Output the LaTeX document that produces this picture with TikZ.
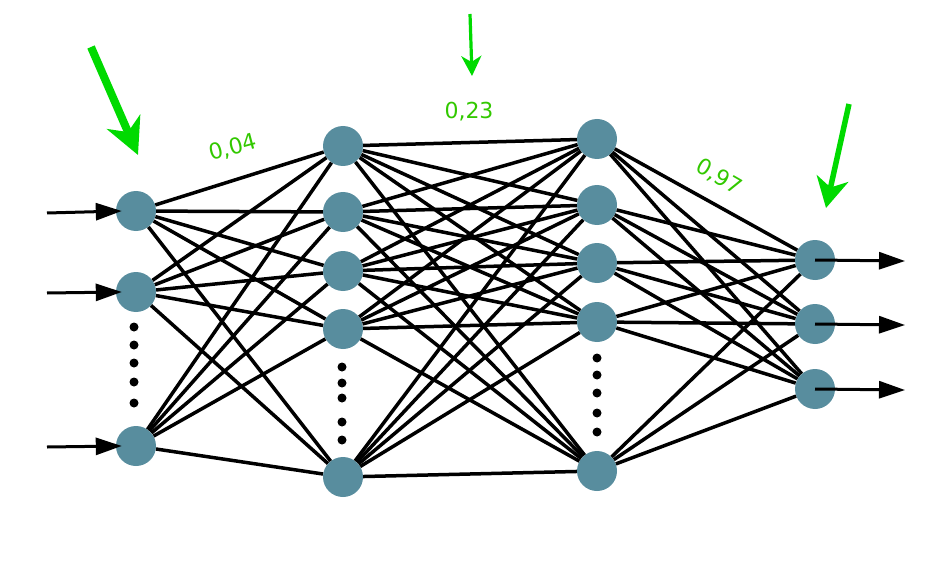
\documentclass[tikz,border=0pt]{standalone}
\usepackage{fontspec}
\setmainfont{DejaVu Sans}
\usetikzlibrary{arrows.meta}
\definecolor{nodeblue}{RGB}{88,141,158}
\definecolor{arrgreen}{RGB}{0,218,0}
\definecolor{labgreen}{RGB}{50,200,0}
\begin{document}
\begin{tikzpicture}[x=1pt,y=-1pt,
  neuron/.style={circle,fill=nodeblue,minimum size=40pt,inner sep=0pt},
  edge/.style={line width=3.5pt,black},
  io/.style={line width=3pt,black,-{Triangle[length=26pt,width=17pt]}},
  dot/.style={circle,fill=black,minimum size=9pt,inner sep=0pt},
  lab/.style={text=labgreen,font=\fontsize{22}{22}\selectfont,inner sep=0pt}
]
\useasboundingbox (0,0) rectangle (931,580);
\node[neuron] (a1) at (136,211) {};
\node[neuron] (a2) at (136,292) {};
\node[neuron] (a3) at (136,446) {};
\node[neuron] (b1) at (343,146) {};
\node[neuron] (b2) at (343,212) {};
\node[neuron] (b3) at (343,271) {};
\node[neuron] (b4) at (343,329) {};
\node[neuron] (b5) at (343,477) {};
\node[neuron] (c1) at (597,139) {};
\node[neuron] (c2) at (597,205) {};
\node[neuron] (c3) at (597,263) {};
\node[neuron] (c4) at (597,322) {};
\node[neuron] (c5) at (597,471) {};
\node[neuron] (d1) at (815,260) {};
\node[neuron] (d2) at (815,324) {};
\node[neuron] (d3) at (815,389) {};
\foreach \i in {a1,a2,a3}{\foreach \j in {b1,b2,b3,b4,b5}{\draw[edge] (\i) -- (\j);}}
\foreach \i in {b1,b2,b3,b4,b5}{\foreach \j in {c1,c2,c3,c4,c5}{\draw[edge] (\i) -- (\j);}}
\foreach \i in {c1,c2,c3,c4,c5}{\foreach \j in {d1,d2,d3}{\draw[edge] (\i) -- (\j);}}
% dots
\foreach \y [count=\k] in {327,345,363,382,403}{\node[dot] (pa\k) at (134,\y) {};}
\foreach \y [count=\k] in {367,383,398,422,440}{\node[dot] (pb\k) at (342,\y) {};}
\foreach \y [count=\k] in {358,375,393,413,432}{\node[dot] (pc\k) at (597,\y) {};}
% input arrows
\coordinate (in1) at (47,213);
\coordinate (in2) at (47,293);
\coordinate (in3) at (47,447);
\draw[io] (in1) -- ([xshift=6pt]a1.west);
\draw[io] (in2) -- ([xshift=6pt]a2.west);
\draw[io] (in3) -- ([xshift=6pt]a3.west);
% output arrows
\coordinate (out1) at (905,261);
\coordinate (out2) at (905,325);
\coordinate (out3) at (905,390);
\draw[io] (d1.center) -- (out1);
\draw[io] (d2.center) -- (out2);
\draw[io] (d3.center) -- (out3);
% green arrows
\coordinate (g1s) at (91,47);
\coordinate (g1e) at (138,155);
\coordinate (g2s) at (470,14);
\coordinate (g2e) at (472,76);
\coordinate (g3s) at (849,104);
\coordinate (g3e) at (826,208);
\draw[arrgreen,line width=8pt,-{Stealth[length=36pt,width=36pt,inset=11pt]}] (g1s) -- (g1e);
\draw[arrgreen,line width=3.2pt,-{Stealth[length=20pt,width=20pt,inset=6pt]}] (g2s) -- (g2e);
\draw[arrgreen,line width=5.5pt,-{Stealth[length=30pt,width=32pt,inset=9pt]}] (g3s) -- (g3e);
% labels
\node[lab,rotate=15] (l1) at (233,148) {0,04};
\node[lab] (l2) at (469,112) {0,23};
\node[lab,rotate=-30] (l3) at (719,177) {0,97};
\end{tikzpicture}
\end{document}
